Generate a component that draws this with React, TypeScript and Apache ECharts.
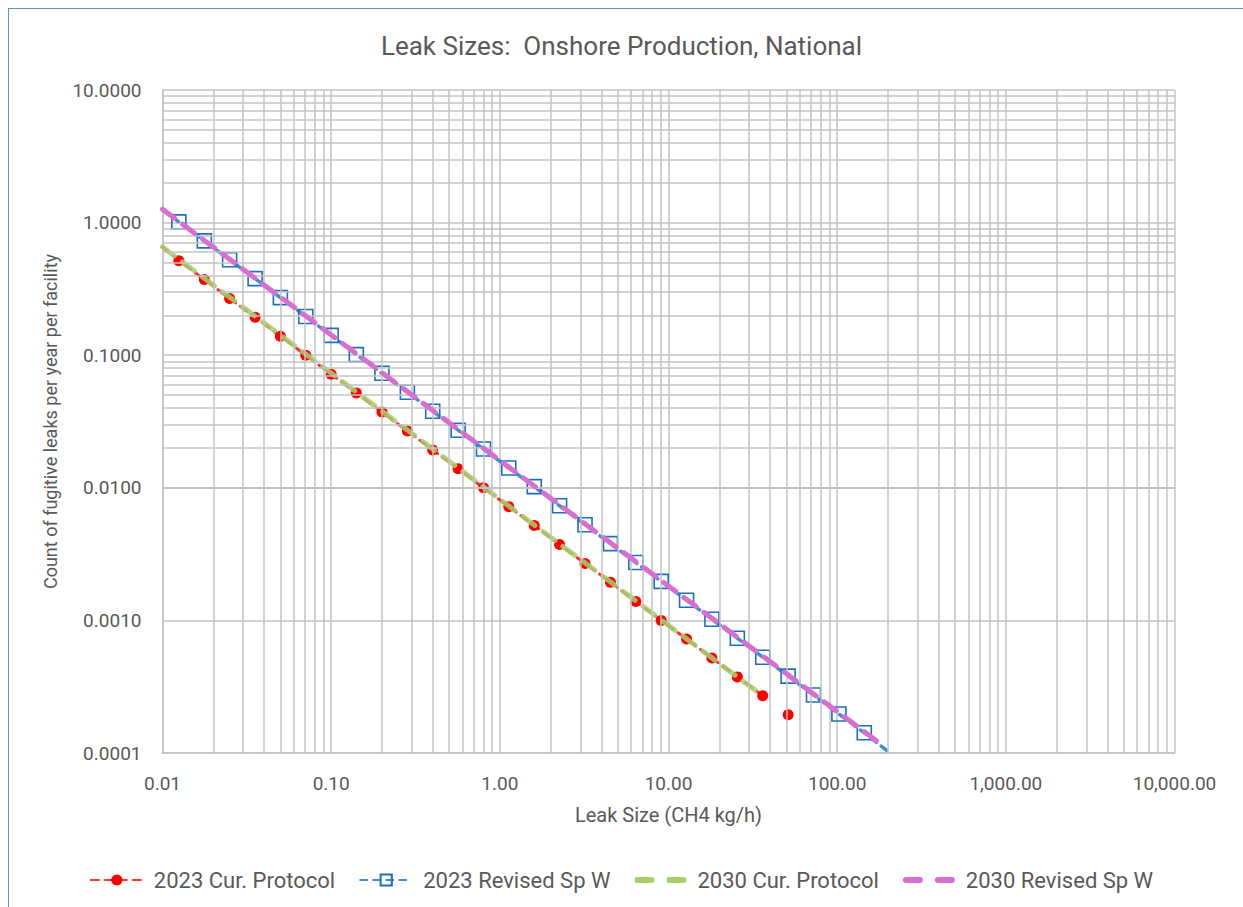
import React, { useEffect, useRef } from "react";
import * as echarts from "echarts";

// ---- data ----
const leakSizes = [0.0125, 0.0177, 0.025, 0.0354, 0.05, 0.0707, 0.1, 0.141, 0.2, 0.283, 0.4, 0.566, 0.8, 1.13, 1.6, 2.26, 3.2, 4.53, 6.4, 9.05, 12.8, 18.1, 25.6, 36.2, 51.2, 72.4, 102.4, 144.8];
const cur2023 = [0.516, 0.372, 0.268, 0.193, 0.139, 0.1, 0.0719, 0.0518, 0.0373, 0.0268, 0.0193, 0.0139, 0.01, 0.00721, 0.00519, 0.00374, 0.00269, 0.00194, 0.00139, 0.001, 0.000723, 0.00052, 0.000375, 0.00027, 0.000194];
const revised2023 = [1.012, 0.728, 0.524, 0.378, 0.272, 0.196, 0.141, 0.101, 0.073, 0.0526, 0.0378, 0.0272, 0.0196, 0.0141, 0.0102, 0.00732, 0.00527, 0.00379, 0.00273, 0.00197, 0.00142, 0.00102, 0.000734, 0.000528, 0.00038, 0.000274, 0.000197, 0.000142];
// line end points (lines start at the left edge of the plot)
const curLineStart = [0.01, 0.655];
const revLineStart = [0.01, 1.26];
const revLineEnd = [200, 0.000103];
const cur2030 = [[0.01, 0.655], [36.2, 0.00027]];
const rev2030 = [[0.01, 1.26], [190, 0.000112]];

const seriesNames = ["2023 Cur. Protocol", "2023 Revised Sp W", "2030 Cur. Protocol", "2030 Revised Sp W"];
const xDecades = [0.01, 0.1, 1, 10, 100, 1000];
const yDecades = [0.0001, 0.001, 0.01, 0.1, 1];
const minorSteps = [2, 3, 4, 5, 6, 7, 8, 9];

const TEXT = "#595959";
const GRID = "#c3c3c3";
const FONT = "'Roboto', sans-serif";
const DASH_ICON = "path://M3,0h14a3,3 0 0 1 0,6h-14a3,3 0 0 1 0,-6z M35,0h14a3,3 0 0 1 0,6h-14a3,3 0 0 1 0,-6z";

function fmtX(v: number) {
  return v.toLocaleString("en-US", { minimumFractionDigits: 2, maximumFractionDigits: 2 });
}

export default function App() {
  const ref = useRef<HTMLDivElement>(null);
  useEffect(() => {
    if (!ref.current) return;
    const chart = echarts.init(ref.current, null, { renderer: "svg" });

    const xMinor: any[] = [];
    xDecades.forEach((d) => minorSteps.forEach((m) => xMinor.push({ xAxis: +(d * m).toPrecision(6) })));
    const yMinor: any[] = [];
    yDecades.forEach((d) => minorSteps.forEach((m) => yMinor.push({ yAxis: +(d * m).toPrecision(6) })));

    const curPts = cur2023.map((y, i) => [leakSizes[i], y]);
    const revPts = revised2023.map((y, i) => [leakSizes[i], y]);

    const option: any = {
      animation: false,
      backgroundColor: "#ffffff",
      title: {
        text: "Leak Sizes:  Onshore Production, National",
        left: "center",
        top: 28,
        textStyle: { color: TEXT, fontSize: 26, fontWeight: "normal", fontFamily: FONT },
      },
      grid: { left: 162.5, right: 68.5, top: 90, bottom: 154, containLabel: false },
      xAxis: {
        type: "log",
        logBase: 10,
        min: 0.01,
        max: 10000,
        interval: 1,
        name: "Leak Size (CH4 kg/h)",
        nameLocation: "middle",
        nameGap: 52,
        nameTextStyle: { color: TEXT, fontSize: 20, fontFamily: FONT },
        axisLine: { show: true, lineStyle: { color: GRID, width: 1.5 } },
        axisTick: { show: false },
        axisLabel: { color: TEXT, fontSize: 19, fontFamily: FONT, margin: 21, formatter: (v: number) => fmtX(v) },
        splitLine: { show: true, lineStyle: { color: GRID, width: 1.5 } },
      },
      yAxis: {
        type: "log",
        logBase: 10,
        min: 0.0001,
        max: 10,
        interval: 1,
        name: "Count of fugitive leaks per year per facility",
        nameLocation: "middle",
        nameGap: 103,
        nameTextStyle: { color: TEXT, fontSize: 18, fontFamily: FONT },
        axisLine: { show: true, lineStyle: { color: GRID, width: 1.5 } },
        axisTick: { show: false },
        axisLabel: { color: TEXT, fontSize: 19, fontFamily: FONT, margin: 21, formatter: (v: number) => v.toFixed(4) },
        splitLine: { show: true, lineStyle: { color: GRID, width: 1.5 } },
      },
      legend: {
        data: [
          { name: seriesNames[0] },
          { name: seriesNames[1] },
          { name: seriesNames[2], icon: DASH_ICON, itemStyle: { color: "#a4d06c" } },
          { name: seriesNames[3], icon: DASH_ICON, itemStyle: { color: "#d86fd0" } },
        ],
        left: "center",
        top: 864,
        itemWidth: 52,
        itemHeight: 14,
        itemGap: 24,
        textStyle: { color: TEXT, fontSize: 22, fontFamily: FONT, padding: [0, 0, 0, 6] },
      },
      series: [
        {
          name: "grid",
          type: "line",
          data: [],
          silent: true,
          z: 0,
          markLine: {
            silent: true,
            symbol: "none",
            label: { show: false },
            lineStyle: { color: GRID, width: 1.5, type: "solid" },
            data: [...xMinor, ...yMinor],
          },
        },
        {
          name: seriesNames[0],
          type: "line",
          z: 2,
          data: [{ value: curLineStart, symbol: "none" }, ...curPts.slice(0, 24)],
          symbol: "circle",
          symbolSize: 11,
          showSymbol: true,
          itemStyle: { color: "#ff0000" },
          lineStyle: { color: "#ff3030", width: 3, type: [8, 6], cap: "round" },
        },
        {
          name: seriesNames[0],
          type: "scatter",
          z: 2,
          data: curPts.slice(24),
          symbol: "circle",
          symbolSize: 11,
          itemStyle: { color: "#ff0000", opacity: 1 },
        },
        {
          name: seriesNames[1],
          type: "line",
          z: 3,
          data: [{ value: revLineStart, symbol: "none" }, ...revPts, { value: revLineEnd, symbol: "none" }],
          symbol: "rect",
          symbolSize: 14,
          showSymbol: true,
          itemStyle: { color: "rgba(255,255,255,0)", borderColor: "#1a6fc2", borderWidth: 1.6 },
          lineStyle: { color: "#3d8fd1", width: 3.5, type: [7, 6], cap: "round" },
        },
        {
          name: seriesNames[2],
          type: "line",
          z: 4,
          data: cur2030,
          symbol: "none",
          showSymbol: false,
          itemStyle: { color: "#a4d06c" },
          lineStyle: { color: "#a4d06c", width: 5, type: [15, 10], cap: "round", opacity: 0.85 },
        },
        {
          name: seriesNames[3],
          type: "line",
          z: 5,
          data: rev2030,
          symbol: "none",
          showSymbol: false,
          itemStyle: { color: "#d86fd0" },
          lineStyle: { color: "#d86fd0", width: 5, type: [15, 10], cap: "round" },
        },
      ],
    };
    chart.setOption(option);
    return () => chart.dispose();
  }, []);

  return (
    <div
      style={{
        position: "fixed",
        left: 0,
        top: 0,
        width: 1243,
        height: 907,
        background: "#ffffff",
      }}
    >
      <div ref={ref} style={{ position: "absolute", left: 0, top: 0, width: 1243, height: 907 }} />
      <div
        style={{
          position: "absolute",
          left: 8,
          top: 8,
          width: 1243,
          height: 907,
          borderLeft: "1.3px solid #4f96d6",
          borderTop: "1.3px solid #4f96d6",
          pointerEvents: "none",
        }}
      />
    </div>
  );
}
